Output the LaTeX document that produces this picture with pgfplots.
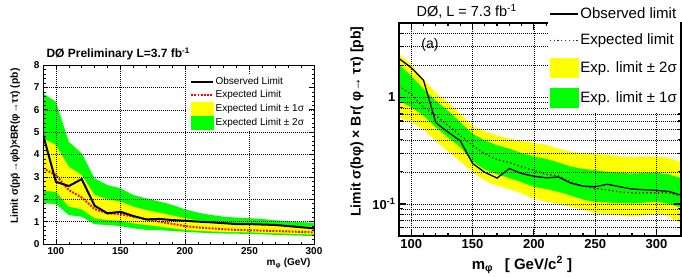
\documentclass[border=0pt]{standalone}
\usepackage{fontspec}
\setmainfont{Liberation Sans}
\usepackage{pgfplots}
\pgfplotsset{compat=1.18}
\usepgfplotslibrary{fillbetween}
\usepackage{pgfplotstable}
\definecolor{ryellow}{RGB}{255,255,0}
\definecolor{rgreen}{RGB}{0,255,0}
\definecolor{rdred}{RGB}{150,0,0}

\pgfplotstableread{
m obs exp s1lo s1hi s2lo s2hi
90  4.90 3.38 2.38 4.72 1.82 6.73
100 2.78 3.08 2.33 4.42 1.79 6.35
110 2.59 2.41 1.67 3.45 1.29 4.57
120 2.90 2.08 1.55 3.08 1.22 4.05
130 1.71 1.56 1.15 2.19 0.88 2.93
140 1.37 1.37 1.07 2.00 0.85 2.63
150 1.44 1.34 1.04 1.89 0.80 2.49
160 1.25 1.22 0.92 1.67 0.70 2.19
170 1.10 1.10 0.85 1.52 0.63 2.04
180 1.12 1.00 0.78 1.40 0.62 1.90
190 1.07 0.90 0.70 1.28 0.58 1.75
200 1.04 0.80 0.63 1.15 0.55 1.55
210 1.00 0.74 0.59 1.05 0.51 1.40
220 0.97 0.70 0.56 0.98 0.49 1.30
230 0.93 0.66 0.54 0.93 0.47 1.22
240 0.89 0.63 0.53 0.90 0.46 1.18
250 0.89 0.61 0.52 0.89 0.45 1.15
260 0.87 0.60 0.50 0.87 0.43 1.12
270 0.85 0.58 0.48 0.84 0.41 1.06
280 0.80 0.56 0.46 0.81 0.39 1.02
290 0.75 0.54 0.44 0.79 0.37 0.98
300 0.70 0.52 0.43 0.77 0.36 0.95
}\leftdata

\pgfplotstableread{
m obs exp s1lo s1hi s2lo s2hi
90  2.32 1.28 0.93  2.04  0.65  2.57
100 1.90 1.07 0.81  1.59  0.585 2.04
110 1.45 0.81 0.675 1.20  0.50  1.48
120 0.58 0.675 0.525 0.93 0.39  1.11
130 0.472 0.545 0.42 0.75 0.31  0.90
140 0.392 0.44 0.342 0.585 0.25 0.70
150 0.240 0.355 0.25 0.455 0.20 0.545
160 0.198 0.296 0.21 0.395 0.165 0.48
170 0.175 0.26 0.19  0.355 0.148 0.44
180 0.215 0.245 0.175 0.33 0.138 0.41
190 0.193 0.223 0.16 0.30  0.125 0.39
200 0.182 0.207 0.145 0.28 0.112 0.375
210 0.176 0.19 0.138 0.265 0.105 0.36
220 0.179 0.183 0.13 0.245 0.10  0.33
230 0.157 0.161 0.12 0.225 0.094 0.31
240 0.147 0.147 0.11 0.213 0.088 0.30
250 0.145 0.140 0.105 0.207 0.082 0.296
260 0.153 0.135 0.103 0.200 0.080 0.29
270 0.145 0.130 0.102 0.196 0.078 0.28
280 0.138 0.127 0.101 0.193 0.076 0.276
290 0.136 0.127 0.103 0.195 0.078 0.278
300 0.134 0.127 0.105 0.196 0.082 0.28
310 0.131 0.127 0.100 0.190 0.076 0.27
320 0.121 0.119 0.093 0.174 0.066 0.248
}\rightdata

\begin{document}
\begin{tikzpicture}
% ---------------- left panel ----------------
\begin{axis}[
  at={(43pt,32pt)}, anchor=south west, scale only axis,
  width=271pt, height=179pt,
  xmin=90, xmax=300, ymin=0, ymax=8,
  xtick={100,150,200,250,300}, ytick={0,1,...,8},
  minor x tick num=4, minor y tick num=4,
  tick align=inside, major tick length=5pt, minor tick length=2.5pt,
  every tick/.style={black, line width=0.6pt},
  grid=major, major grid style={black, line width=0.5pt, dash pattern=on 1pt off 1pt},
  axis line style={line width=1pt},
  set layers=axis on top, clip mode=individual,
  /pgf/number format/assume math mode=true,
  ticklabel style={font=\bfseries\fontsize{10}{11}\selectfont},
  xlabel={m\textsubscript{φ} (GeV)},
  ylabel={Limit σ(p\={p}→φb)×BR(φ→ττ) (pb)},
  xlabel style={font=\bfseries\fontsize{10}{12}\selectfont, at={(axis description cs:1,-0.06)}, anchor=north east},
  ylabel style={font=\bfseries\fontsize{10.3}{12}\selectfont, at={(axis description cs:-0.072,1)}, anchor=south east},
  legend style={at={(0.531,0.95)}, anchor=north west, draw=none, fill=white,
    font=\fontsize{10}{11}\selectfont, row sep=1pt, inner xsep=3pt, inner ysep=2pt,
    nodes={inner sep=1.5pt}},
  legend cell align=left,
]
\addlegendimage{legend image code/.code={\draw[black,line width=2pt] (0pt,0pt) -- (22pt,0pt);}}
\addlegendimage{legend image code/.code={\draw[red,line width=2pt,dash pattern=on 1.8pt off 1.4pt] (0pt,0pt) -- (22pt,0pt);}}
\addlegendimage{legend image code/.code={\fill[ryellow] (0pt,-6.5pt) rectangle (22pt,6.5pt);}}
\addlegendimage{legend image code/.code={\fill[rgreen] (0pt,-6.5pt) rectangle (22pt,6.5pt);}}
\addplot[name path=l2hi, draw=none, forget plot] table[x=m,y=s2hi]{\leftdata};
\addplot[name path=l2lo, draw=none, forget plot] table[x=m,y=s2lo]{\leftdata};
\addplot[rgreen, forget plot] fill between[of=l2hi and l2lo];
\addplot[name path=l1hi, draw=none, forget plot] table[x=m,y=s1hi]{\leftdata};
\addplot[name path=l1lo, draw=none, forget plot] table[x=m,y=s1lo]{\leftdata};
\addplot[ryellow, forget plot] fill between[of=l1hi and l1lo];
\addplot[red, line width=2pt, dash pattern=on 1.8pt off 1.4pt, forget plot] table[x=m,y=exp]{\leftdata};
\addplot[black, line width=2pt, forget plot] table[x=m,y=obs]{\leftdata};
\legend{Observed Limit, Expected Limit, Expected Limit ± 1σ, Expected Limit ± 2σ}
\end{axis}
\node[anchor=base west, font=\bfseries\fontsize{12}{14}\selectfont] at (43pt,218pt) {DØ Preliminary L=3.7 fb\textsuperscript{-1}};

% ---------------- right panel ----------------
\begin{axis}[
  at={(399pt,40pt)}, anchor=south west, scale only axis,
  width=282pt, height=213pt,
  xmin=90, xmax=320, ymode=log, ymin=0.05, ymax=5,
  xtick={100,150,200,250,300}, minor x tick num=4,
  ytick={0.1,1}, yticklabels={10\textsuperscript{-1},1},
  minor ytick={0.06,0.07,0.08,0.09,0.2,0.3,0.4,0.5,0.6,0.7,0.8,0.9,2,3,4,5},
  tick align=inside, major tick length=7pt, minor tick length=3.5pt,
  every tick/.style={black, line width=1.2pt},
  xmajorgrids, ymajorgrids, yminorgrids,
  major grid style={black, line width=0.5pt, dash pattern=on 1pt off 1pt},
  minor grid style={black, line width=0.5pt, dash pattern=on 1pt off 1pt},
  axis line style={line width=1.6pt},
  set layers=axis on top, clip mode=individual,
  /pgf/number format/assume math mode=true,
  ticklabel style={font=\bfseries\fontsize{13}{14}\selectfont},
  xlabel={m\textsubscript{φ}\enskip\ [ GeV/c\textsuperscript{2} ]},
  ylabel={Limit σ(bφ) × Br( φ→ ττ) [pb]},
  xlabel style={font=\bfseries\fontsize{15}{17}\selectfont, at={(axis description cs:0.436,-0.08)}, anchor=north},
  ylabel style={font=\bfseries\fontsize{14}{16}\selectfont, at={(axis description cs:-0.113,1)}, anchor=south east},
  legend style={at={(0.528,1.108)}, anchor=north west, draw=none, fill=white,
    font=\fontsize{15}{17}\selectfont, row sep=10pt, inner xsep=1pt, inner ysep=5.5pt,
    nodes={inner sep=2pt}},
  legend cell align=left,
]
\addlegendimage{legend image code/.code={\draw[black,line width=1.3pt] (0pt,0pt) -- (28pt,0pt);}}
\addlegendimage{legend image code/.code={\draw[rdred,line width=1.3pt,dash pattern=on 1.3pt off 2.5pt] (0pt,0pt) -- (28pt,0pt);}}
\addlegendimage{legend image code/.code={\fill[ryellow] (0pt,-9.5pt) rectangle (28pt,9.5pt);}}
\addlegendimage{legend image code/.code={\fill[rgreen] (0pt,-9.5pt) rectangle (28pt,9.5pt);}}
\addplot[name path=r2hi, draw=none, forget plot] table[x=m,y=s2hi]{\rightdata};
\addplot[name path=r2lo, draw=none, forget plot] table[x=m,y=s2lo]{\rightdata};
\addplot[ryellow, forget plot] fill between[of=r2hi and r2lo];
\addplot[name path=r1hi, draw=none, forget plot] table[x=m,y=s1hi]{\rightdata};
\addplot[name path=r1lo, draw=none, forget plot] table[x=m,y=s1lo]{\rightdata};
\addplot[rgreen, forget plot] fill between[of=r1hi and r1lo];
\addplot[rdred, line width=1.3pt, dash pattern=on 1.3pt off 2.5pt, forget plot] table[x=m,y=exp]{\rightdata};
\addplot[black, line width=1.3pt, forget plot] table[x=m,y=obs]{\rightdata};
\node[font=\fontsize{14}{16}\selectfont] at (rel axis cs:0.11,0.897) {(a)};
\legend{Observed limit, Expected limit, Exp. limit ± 2σ, Exp. limit ± 1σ}
\end{axis}
\node[anchor=base west, font=\fontsize{14.5}{16}\selectfont] at (413pt,259pt) {DØ, L = 7.3 fb\textsuperscript{-1}};
\pgfresetboundingbox
\useasboundingbox (0,0) rectangle (682pt,276pt);
\end{tikzpicture}
\end{document}
